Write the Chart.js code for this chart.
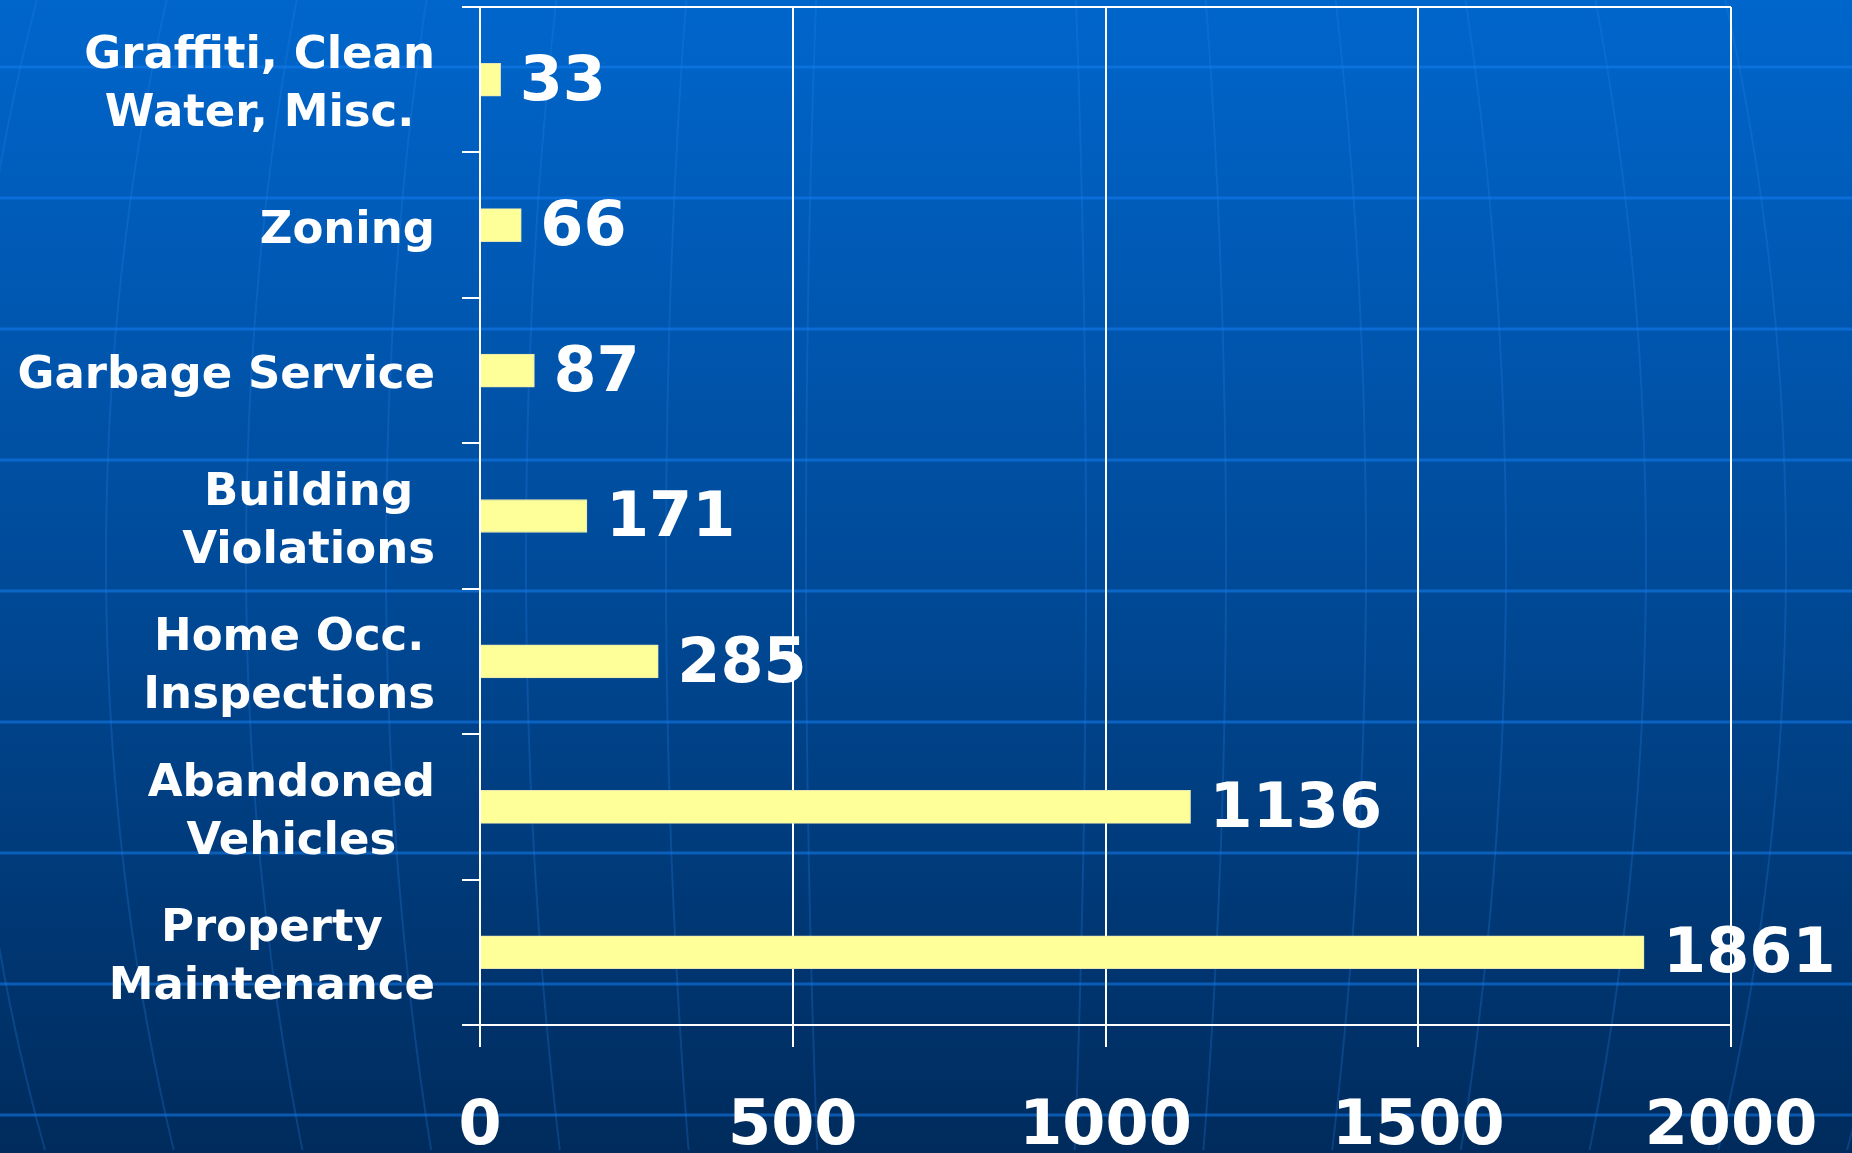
<!DOCTYPE html>
<html>
<head>
<meta charset="utf-8">
<script src="https://cdn.jsdelivr.net/npm/chart.js@4.4.1/dist/chart.umd.min.js"></script>
<style>
  html, body { margin: 0; padding: 0; background: #003c7a; }
  #wrap { width: 1852px; height: 1153px; }
</style>
</head>
<body>
<div id="wrap"><canvas id="complaintsChart" width="1852" height="1153"></canvas></div>
<script>
// Data
const categories = [
    ['Graffiti, Clean', 'Water, Misc.'],
    ['Zoning'],
    ['Garbage Service'],
    ['Building', 'Violations'],
    ['Home Occ.', 'Inspections'],
    ['Abandoned', 'Vehicles'],
    ['Property', 'Maintenance']
];
const complaintCounts = [33, 66, 87, 171, 285, 1136, 1861];
const axisTicks = [0, 500, 1000, 1500, 2000];

// Slide-like background: blue gradient, faint parallels and meridians
const backgroundPlugin = {
    id: 'slideBackground',
    beforeDraw: (chart) => {
        const { ctx, width, height } = chart;
        ctx.save();
        const grad = ctx.createLinearGradient(0, 0, 0, height);
        grad.addColorStop(0, '#0066cc');
        grad.addColorStop(0.5, '#004a98');
        grad.addColorStop(1, '#002b5c');
        ctx.fillStyle = grad;
        ctx.fillRect(0, 0, width, height);

        // meridians
        ctx.strokeStyle = 'rgba(40, 130, 235, 0.25)';
        ctx.lineWidth = 2;
        const cx = 946, cy = 560, b = 1500;
        for (let k = -8; k <= 8; k++) {
            if (k === 0) continue;
            const a = k * 140;
            ctx.beginPath();
            for (let y = 0; y <= height; y += 10) {
                const f = Math.sqrt(Math.max(0, 1 - Math.pow((y - cy) / b, 2)));
                const x = cx + a * f;
                if (y === 0) ctx.moveTo(x, y); else ctx.lineTo(x, y);
            }
            ctx.stroke();
        }

        // parallels
        ctx.strokeStyle = 'rgba(20, 125, 240, 0.55)';
        ctx.lineWidth = 3;
        for (let y = 67; y < height; y += 131) {
            ctx.beginPath();
            ctx.moveTo(0, y);
            ctx.lineTo(width, y);
            ctx.stroke();
        }
        ctx.restore();
    }
};

// Category labels: lines centred on each other, block right-aligned
const categoryLabelPlugin = {
    id: 'categoryLabels',
    afterDraw: (chart) => {
        const { ctx } = chart;
        const yScale = chart.scales.y;
        const rightEdge = 435;
        const lineH = 58;
        ctx.save();
        ctx.font = 'bold 45px "DejaVu Sans"';
        ctx.fillStyle = '#ffffff';
        ctx.textAlign = 'center';
        ctx.textBaseline = 'middle';
        categories.forEach((lines, i) => {
            const maxW = Math.max(...lines.map(l => ctx.measureText(l).width));
            const cxText = rightEdge - maxW / 2;
            const yMid = yScale.getPixelForTick(i) + 6;
            lines.forEach((line, j) => {
                const y = yMid + (j - (lines.length - 1) / 2) * lineH;
                ctx.fillText(line, cxText, y);
            });
        });
        ctx.restore();
    }
};

// Value labels at the end of each bar
const valueLabelPlugin = {
    id: 'valueLabels',
    afterDatasetsDraw: (chart) => {
        const { ctx } = chart;
        const meta = chart.getDatasetMeta(0);
        ctx.save();
        ctx.font = 'bold 62px "DejaVu Sans"';
        ctx.fillStyle = '#ffffff';
        ctx.textAlign = 'left';
        ctx.textBaseline = 'middle';
        meta.data.forEach((bar, i) => {
            ctx.fillText(String(complaintCounts[i]), bar.x + 19, bar.y + 4);
        });
        ctx.restore();
    }
};

const initializeChart = () => {
    const ctx = document.getElementById('complaintsChart').getContext('2d');
    new Chart(ctx, {
        type: 'bar',
        data: {
            labels: categories,
            datasets: [{
                data: complaintCounts,
                backgroundColor: '#ffff99',
                borderColor: '#e6e6b0',
                borderWidth: 1,
                barThickness: 33
            }]
        },
        options: {
            indexAxis: 'y',
            responsive: false,
            devicePixelRatio: 1,
            animation: false,
            layout: { padding: { top: 7, right: 121, left: 0, bottom: 0 } },
            plugins: {
                legend: { display: false },
                tooltip: { enabled: false }
            },
            scales: {
                x: {
                    min: 0,
                    max: 2000,
                    afterBuildTicks: (scale) => {
                        scale.ticks = axisTicks.map(v => ({ value: v }));
                    },
                    afterFit: (scale) => {
                        scale.height = 128;
                        scale.paddingLeft = 0;
                        scale.paddingRight = 0;
                    },
                    grid: {
                        color: '#ffffff',
                        lineWidth: 2,
                        tickLength: 22,
                        tickColor: '#ffffff'
                    },
                    border: { color: '#ffffff', width: 2 },
                    ticks: {
                        color: '#ffffff',
                        padding: 44,
                        maxRotation: 0,
                        callback: (value) => String(value),
                        font: { family: '"DejaVu Sans"', weight: 'bold', size: 62 }
                    }
                },
                y: {
                    afterFit: (scale) => { scale.width = 480; },
                    grid: {
                        offset: true,
                        color: (c) => c.index === 0 ? '#ffffff' : 'rgba(0,0,0,0)',
                        lineWidth: 2,
                        tickLength: 18,
                        tickColor: '#ffffff'
                    },
                    border: { color: '#ffffff', width: 2 },
                    ticks: { display: false }
                }
            }
        },
        plugins: [backgroundPlugin, categoryLabelPlugin, valueLabelPlugin]
    });
};

document.addEventListener('DOMContentLoaded', initializeChart);
</script>
</body>
</html>
